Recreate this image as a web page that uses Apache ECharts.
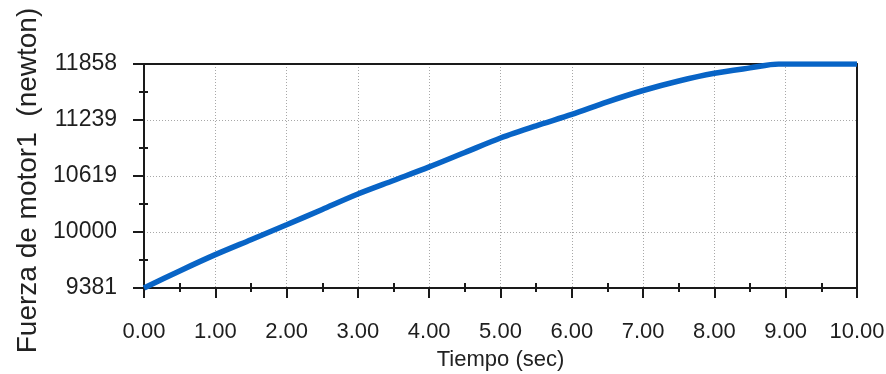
<!DOCTYPE html>
<html>
<head>
<meta charset="utf-8">
<script src="https://cdn.jsdelivr.net/npm/echarts@6/dist/echarts.min.js"></script>
<style>
html,body{margin:0;padding:0;background:#fff;}
#chart{width:886px;height:374px;}
</style>
</head>
<body>
<div id="chart"></div>
<script>
const timeValues = [0, 0.5, 1, 1.5, 2, 2.5, 3, 3.5, 4, 4.5, 5, 5.5, 6, 6.5, 7, 7.5, 8, 8.5, 8.9, 9.5, 10];
const forceValues = [9381, 9570, 9750, 9915, 10080, 10250, 10420, 10570, 10720, 10880, 11040, 11175, 11300, 11440, 11565, 11670, 11755, 11815, 11858, 11858, 11858];
const yTickValues = [9381, 10000.25, 10619.5, 11238.75, 11858];
const yTickLabels = ['9381', '10000', '10619', '11239', '11858'];
const yMinorValues = [9690.625, 10309.875, 10929.125, 11548.375];
const xTickLabels = ['0.00','1.00','2.00','3.00','4.00','5.00','6.00','7.00','8.00','9.00','10.00'];
const xMinorValues = [0.5, 1.5, 2.5, 3.5, 4.5, 5.5, 6.5, 7.5, 8.5, 9.5];

const FONT = 'Liberation Sans';
const AX = '#1a1a1a';
const yMin = yTickValues[0], yMax = yTickValues[yTickValues.length - 1];

const chart = echarts.init(document.getElementById('chart'), null, {renderer: 'canvas'});
const hidden = {show: false};
const grid = {color: '#a8a8a8', width: 1, type: [1, 2]};
chart.setOption({
  animation: false,
  grid: {left: 144, right: 29, top: 64, bottom: 86, show: false, containLabel: false, outerBoundsMode: 'none'},
  xAxis: [
    {
      type: 'value', min: 0, max: 10, interval: 1, position: 'bottom',
      name: 'Tiempo (sec)', nameLocation: 'middle', nameGap: 61,
      nameTextStyle: {fontFamily: FONT, fontSize: 22, color: '#222'},
      axisLine: {show: true, onZero: false, lineStyle: {color: AX, width: 2}},
      axisTick: {show: true, inside: false, length: 10, lineStyle: {color: AX, width: 2}},
      minorTick: {show: true, splitNumber: 2, length: 4, lineStyle: {color: AX, width: 2}},
      axisLabel: {margin: 33, fontFamily: FONT, fontSize: 22, color: '#1e1e1e',
        formatter: (v) => xTickLabels[Math.round(v)]},
      splitLine: {show: true, lineStyle: grid}
    },
    {
      type: 'value', min: 0, max: 10, position: 'bottom', gridIndex: 0,
      axisLine: {show: false, onZero: false},
      axisTick: {show: true, inside: true, length: 5, customValues: xMinorValues, lineStyle: {color: AX, width: 2}},
      axisLabel: hidden, splitLine: hidden
    },
    {
      type: 'value', min: 0, max: 10, position: 'top', gridIndex: 0,
      axisLine: {show: true, onZero: false, lineStyle: {color: AX, width: 2}},
      axisTick: hidden, axisLabel: hidden, splitLine: hidden
    }
  ],
  yAxis: [
    {
      type: 'value', min: yMin, max: yMax, position: 'left',
      name: 'Fuerza de motor1  (newton)', nameLocation: 'middle', nameGap: 102, nameRotate: 90,
      nameTextStyle: {fontFamily: FONT, fontSize: 28, color: '#222', padding: [0, 9, 0, 0]},
      axisLine: {show: true, onZero: false, lineStyle: {color: AX, width: 2}},
      axisTick: {show: true, inside: false, length: 11, customValues: yTickValues, lineStyle: {color: AX, width: 2}},
      axisLabel: {margin: 27, fontFamily: FONT, fontSize: 23, color: '#1e1e1e', customValues: yTickValues,
        formatter: (v) => { const i = yTickValues.findIndex(t => Math.abs(t - v) < 1); return i >= 0 ? yTickLabels[i] : ''; }},
      splitLine: {show: true, lineStyle: grid}
    },
    {
      type: 'value', min: yMin, max: yMax, position: 'left', gridIndex: 0,
      axisLine: {show: false, onZero: false},
      axisTick: {show: true, inside: false, length: 5, customValues: yMinorValues, lineStyle: {color: AX, width: 2}},
      axisLabel: hidden, splitLine: hidden
    },
    {
      type: 'value', min: yMin, max: yMax, position: 'left', gridIndex: 0,
      axisLine: {show: false, onZero: false},
      axisTick: {show: true, inside: true, length: 4, customValues: yMinorValues, lineStyle: {color: AX, width: 2}},
      axisLabel: hidden, splitLine: hidden
    },
    {
      type: 'value', min: yMin, max: yMax, position: 'right', gridIndex: 0,
      axisLine: {show: true, onZero: false, lineStyle: {color: AX, width: 2}},
      axisTick: hidden, axisLabel: hidden, splitLine: hidden
    }
  ],
  series: [{
    type: 'line',
    xAxisIndex: 0, yAxisIndex: 0,
    data: timeValues.map((t, i) => [t, forceValues[i]]),
    showSymbol: false, symbol: 'none', smooth: 0.3,
    lineStyle: {color: '#0864c6', width: 5.5},
    z: 5
  }]
});
</script>
</body>
</html>
